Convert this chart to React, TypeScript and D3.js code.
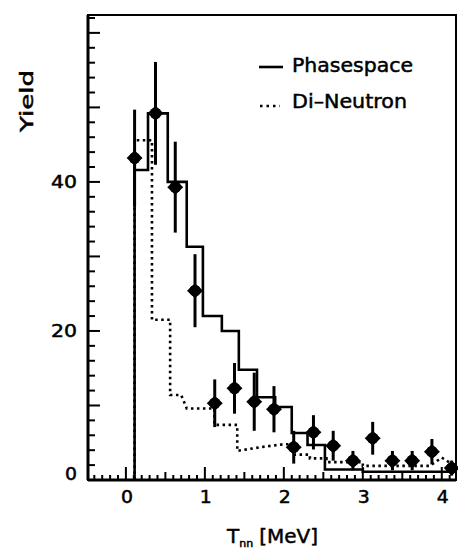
import * as d3 from "d3";

// measured T_nn bin centres, yields and errors
const pointX = [0.11, 0.375, 0.625, 0.875, 1.125, 1.375, 1.625, 1.875, 2.125, 2.375, 2.625, 2.875, 3.125, 3.375, 3.625, 3.875, 4.125];
const pointY = [43.2, 49.2, 39.3, 25.4, 10.3, 12.3, 10.5, 9.5, 4.4, 6.4, 4.6, 2.6, 5.6, 2.6, 2.6, 3.8, 1.6];
const pointErr = [6.5, 6.9, 6.1, 4.9, 3.2, 3.4, 3.9, 3.1, 2.2, 2.3, 2.0, 1.3, 2.2, 1.3, 1.3, 1.7, 1.0];

// phasespace histogram (solid)
const phaseEdges = [0.11, 0.28, 0.53, 0.77, 0.975, 1.215, 1.43, 1.66, 1.89, 2.1, 2.3, 2.52, 3.0, 4.18];
const phaseVals = [41.6, 49.2, 40, 31.3, 22, 20, 14.8, 11.1, 9.8, 6.3, 4.7, 1.4, 1.1];

// di-neutron curve (dotted)
const diX = [0.11, 0.11, 0.33, 0.33, 0.56, 0.56, 0.7, 0.77, 1.12, 1.12, 1.41, 1.41, 1.7, 2.0, 2.11, 2.11, 2.33, 2.33, 2.54, 2.54, 3.0, 3.0, 3.85, 4.0, 4.18];
const diY = [0, 45.6, 45.6, 21.5, 21.5, 11.4, 11.4, 9.6, 9.6, 7.4, 7.4, 3.9, 4.4, 4.8, 4.8, 3.4, 3.4, 2.9, 2.9, 2.4, 2.4, 1.9, 1.9, 3.0, 1.8];

const xTickLabels = [0, 1, 2, 3, 4];
const yTickLabels = [0, 20, 40];

const W = 458;
const H = 549;
const FRAME = { left: 88, right: 456, top: 15, bottom: 480 };
const FONT = "DejaVu Sans, Arial, sans-serif";
// scanned text looks heavier than a plain font
const TEXT_INK = { stroke: "#000", strokeWidth: 0.5 };

export default function App() {
  const x = d3.scaleLinear().domain([-0.48, 4.18]).range([FRAME.left, FRAME.right]);
  const y = d3.scaleLinear().domain([0, 62.4]).range([FRAME.bottom, FRAME.top]);

  const xMinor = d3.range(-4, 42).map((i) => i / 10);
  const yMinor = d3.range(0, 32).map((i) => i * 2);

  const phasePts: [number, number][] = [[phaseEdges[0], 0]];
  phaseEdges.forEach((e, i) => {
    phasePts.push([e, phaseVals[Math.min(i, phaseVals.length - 1)]]);
  });
  const stepLine = d3
    .line<[number, number]>()
    .x((d) => x(d[0]))
    .y((d) => y(d[1]))
    .curve(d3.curveStepAfter);

  const diLine = d3
    .line<number>()
    .x((_, i) => x(diX[i]))
    .y((d) => y(d));

  const diamond = (cx: number, cy: number) =>
    `M${cx - 8},${cy} L${cx},${cy - 7.5} L${cx + 8},${cy} L${cx},${cy + 7.5} Z`;

  return (
    <svg
      width={W}
      height={H}
      style={{ position: "absolute", left: 0, top: 0, background: "#fff" }}
    >
      <rect width={W} height={H} fill="#fff" />

      {/* frame */}
      <rect
        x={FRAME.left}
        y={FRAME.top}
        width={FRAME.right - FRAME.left}
        height={FRAME.bottom - FRAME.top}
        fill="none"
        stroke="#000"
        strokeWidth={2}
      />
      <line x1={FRAME.left} x2={FRAME.right} y1={FRAME.bottom} y2={FRAME.bottom} stroke="#000" strokeWidth={3} />
      <line x1={FRAME.left} x2={FRAME.left} y1={FRAME.top} y2={FRAME.bottom} stroke="#000" strokeWidth={3} />

      {/* y ticks */}
      {yMinor.map((v) => (
        <line
          key={`yt${v}`}
          x1={FRAME.left}
          x2={FRAME.left + (v % 10 === 0 ? 12 : 7)}
          y1={y(v)}
          y2={y(v)}
          stroke="#000"
          strokeWidth={2}
        />
      ))}
      {yTickLabels.map((v) => (
        <text
          key={`yl${v}`}
          x={77}
          y={y(v) - (v === 0 ? 6 : 0)}
          textAnchor="end"
          dominantBaseline="central"
          fontFamily={FONT}
          fontSize={17}
          textLength={v === 0 ? 12 : 26}
          lengthAdjust="spacingAndGlyphs"
          {...TEXT_INK}
        >
          {v}
        </text>
      ))}

      {/* x ticks */}
      {xMinor.map((v) => {
        const r = Math.round(v * 10);
        const len = r % 10 === 0 ? 13 : r % 5 === 0 ? 8 : 5;
        return (
          <line
            key={`xt${r}`}
            x1={x(v)}
            x2={x(v)}
            y1={FRAME.bottom}
            y2={FRAME.bottom - len}
            stroke="#000"
            strokeWidth={2}
          />
        );
      })}
      {xTickLabels.map((v) => (
        <text
          key={`xl${v}`}
          x={x(v) + 1}
          y={497}
          textAnchor="middle"
          dominantBaseline="central"
          fontFamily={FONT}
          fontSize={17}
          textLength={12}
          lengthAdjust="spacingAndGlyphs"
          {...TEXT_INK}
        >
          {v}
        </text>
      ))}

      {/* histograms */}
      <path d={stepLine(phasePts) ?? ""} fill="none" stroke="#000" strokeWidth={2.6} />
      <path
        d={diLine(diY) ?? ""}
        fill="none"
        stroke="#000"
        strokeWidth={2.6}
        strokeDasharray="2.5 3.5"
      />

      {/* data points */}
      {pointX.map((px, i) => {
        const cx = x(px);
        const cy = y(pointY[i]);
        return (
          <g key={`p${i}`}>
            <line
              x1={cx}
              x2={cx}
              y1={y(pointY[i] + pointErr[i])}
              y2={y(Math.max(0, pointY[i] - pointErr[i]))}
              stroke="#000"
              strokeWidth={3}
            />
            <path d={diamond(cx, cy)} fill="#000" />
            <circle cx={cx} cy={cy} r={5.8} fill="#000" />
          </g>
        );
      })}

      {/* legend */}
      <line x1={259} x2={283} y1={67} y2={67} stroke="#000" strokeWidth={2.6} />
      <text x={292} y={72} fontFamily={FONT} fontSize={19.5} textLength={121} lengthAdjust="spacingAndGlyphs" {...TEXT_INK}>
        Phasespace
      </text>
      <line x1={260} x2={280} y1={106} y2={106} stroke="#000" strokeWidth={2.6} strokeDasharray="2.5 4" />
      <text x={292} y={108} fontFamily={FONT} fontSize={19.5} textLength={115} lengthAdjust="spacingAndGlyphs" {...TEXT_INK}>
        Di–Neutron
      </text>

      {/* axis titles */}
      <text
        transform="translate(33,101) rotate(-90)"
        textAnchor="middle"
        fontFamily={FONT}
        fontSize={18}
        textLength={62}
        lengthAdjust="spacingAndGlyphs"
        {...TEXT_INK}
      >
        Yield
      </text>
      <text x={227} y={543} fontFamily={FONT} fontSize={20} {...TEXT_INK}>
        T
        <tspan fontSize={11} dy={4}>
          nn
        </tspan>
        <tspan dy={-4} dx={6}>
          [MeV]
        </tspan>
      </text>
    </svg>
  );
}
